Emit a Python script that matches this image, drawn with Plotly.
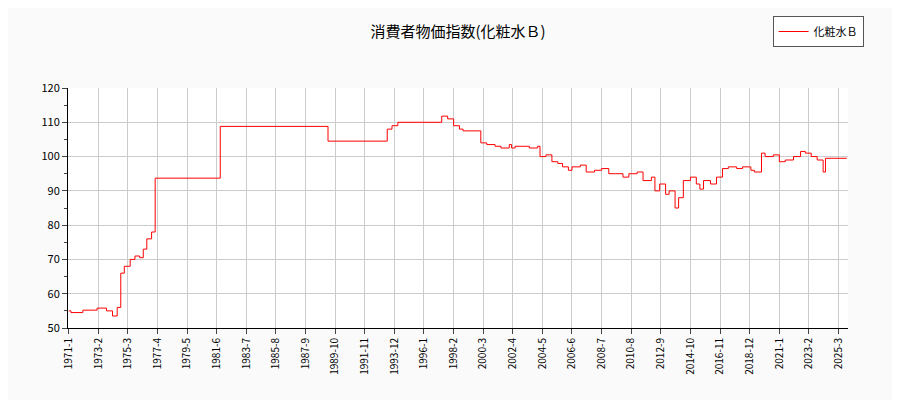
import plotly.graph_objects as go

# change points (month, value); drawn as steps
months = [
    "1971-01", "1971-03", "1972-01", "1973-01", "1973-09", "1974-02", "1974-06",
    "1974-09", "1974-12", "1975-05", "1975-09", "1976-01", "1976-04", "1976-07",
    "1976-11", "1977-02", "1981-09", "1989-04", "1993-06",
    "1993-10", "1994-03", "1997-04", "1997-09", "1998-02", "1998-07", "1998-10",
    "2000-01", "2000-06", "2001-01", "2001-06", "2002-01", "2002-03", "2002-06",
    "2003-06", "2004-01", "2004-03", "2004-08", "2005-01", "2005-06", "2005-10",
    "2006-03", "2006-06", "2007-01", "2007-06", "2008-01", "2008-07", "2009-01",
    "2009-07", "2010-01", "2010-06", "2011-01", "2011-06", "2012-01", "2012-04",
    "2012-08", "2013-01", "2013-04", "2013-09", "2013-12", "2014-04", "2014-10",
    "2015-03", "2015-06", "2015-09", "2016-03", "2016-08", "2017-01", "2017-06",
    "2018-01", "2018-06", "2019-01", "2019-04", "2019-10", "2020-01", "2020-08",
    "2021-01", "2021-06", "2022-01", "2022-07", "2022-11", "2023-04", "2023-09",
    "2024-02", "2024-04", "2025-10",
]
values = [
    55.0, 54.5, 55.2, 55.8, 55.0, 53.5, 56.0,
    66.0, 68.0, 70.0, 71.0, 70.5, 73.0, 76.0,
    78.0, 93.7, 108.8, 104.5, 108.0,
    109.0, 110.0, 111.8, 111.0, 109.0, 108.0, 107.5,
    104.0, 103.5, 103.0, 102.5, 103.5, 102.5, 103.0,
    102.5, 103.0, 100.0, 100.5, 98.5, 98.0, 97.0,
    96.0, 97.0, 97.5, 95.5, 96.0, 96.5, 95.0,
    95.0, 94.0, 95.0, 95.5, 93.0, 94.0, 90.0,
    92.0, 89.0, 90.0, 85.0, 88.0, 93.0, 94.0,
    92.0, 90.5, 93.0, 92.0, 94.0, 96.5, 97.0,
    96.5, 97.0, 96.0, 95.5, 101.0, 100.0, 100.5,
    98.5, 99.0, 100.0, 101.5, 101.0, 100.0, 99.0,
    95.5, 99.5, 99.5,
]
tick_labels = [
    "1971-1", "1973-2", "1975-3", "1977-4", "1979-5", "1981-6", "1983-7",
    "1985-8", "1987-9", "1989-10", "1991-11", "1993-12", "1996-1", "1998-2",
    "2000-3", "2002-4", "2004-5", "2006-6", "2008-7", "2010-8", "2012-9",
    "2014-10", "2016-11", "2018-12", "2021-1", "2023-2", "2025-3",
]
tick_vals = [f"{t.split('-')[0]}-{int(t.split('-')[1]):02d}-01" for t in tick_labels]

fig = go.Figure(go.Scatter(
    x=[m + "-01" for m in months], y=values, mode="lines",
    line=dict(color="#ff0000", width=1, shape="hv"), name="化粧水Ｂ",
))

fig.update_layout(
    title=dict(text="消費者物価指数(化粧水Ｂ)", x=0.5, y=0.955, font=dict(size=15, color="#000")),
    width=900, height=400,
    paper_bgcolor="#fafafa", plot_bgcolor="#ffffff",
    font=dict(family="Noto Sans CJK JP, DejaVu Sans", size=11, color="#000"),
    margin=dict(l=60, r=60, t=80, b=80, autoexpand=False),
    showlegend=True,
    legend=dict(x=1.02, y=1.30, xanchor="right", yanchor="top",
                bordercolor="#555", borderwidth=1, bgcolor="#ffffff"),
)
fig.update_xaxes(
    range=["1970-12-15", "2025-11-01"], tickvals=tick_vals, ticktext=tick_labels,
    tickangle=-90, showgrid=True, gridcolor="#cccccc", showline=True, automargin=False,
    linecolor="#000", ticks="outside", tickfont=dict(size=10),
)
fig.update_yaxes(
    range=[50, 120], dtick=10, showgrid=True, gridcolor="#cccccc", automargin=False,
    showline=True, linecolor="#000", ticks="outside",
    minor=dict(dtick=5, ticks="outside", ticklen=3, showgrid=False),
)

fig.write_html("out.html")
